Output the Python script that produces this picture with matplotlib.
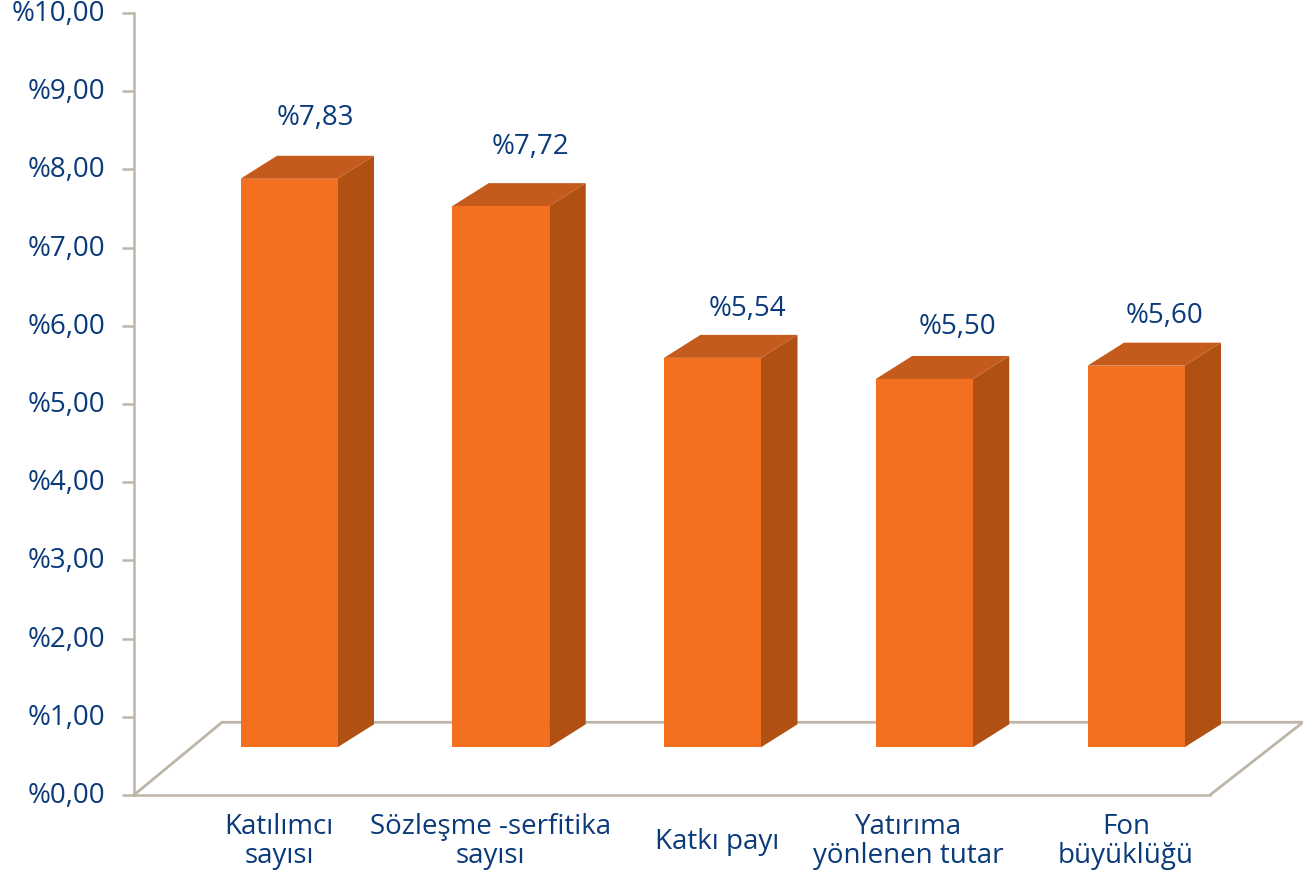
import numpy as np
import matplotlib
matplotlib.use("Agg")
import matplotlib.pyplot as plt
from matplotlib.transforms import ScaledTranslation

categories = ["Katılımcı\nsayısı", "Sözleşme -serfitika\nsayısı", "Katkı payı",
              "Yatırıma\nyönlenen tutar", "Fon\nbüyüklüğü"]
labels = ["%7,83", "%7,72", "%5,54", "%5,50", "%5,60"]
# bar tops as drawn, they do not quite agree with the printed labels
bar_tops = [7.88, 7.53, 5.59, 5.32, 5.49]
y_ticks = np.arange(0, 11)
y_tick_labels = ["%" + str(i) + ",00" for i in y_ticks]

label_dx = [0.125, 0.14, 0.165, 0.155, 0.135]
label_dy = [0.78, 0.76, 0.63, 0.67, 0.63]
tick_dx = [-0.047, -0.047, 0.02, -0.075, -0.047]

FRONT = "#F47021"
SIDE = "#B05012"
TOP = "#C45A1B"
AXIS = "#BDB5A8"
TEXT = "#0A3A7A"
FONT = "Open Sans"
SIZE = 20

W, H = 1303, 873
fig = plt.figure(figsize=(W / 100, H / 100), dpi=100)
ax = fig.add_axes([134 / W, (H - 795) / H, (1210 - 134) / W, 782 / H])

px = 211.75  # pixels per category
x = np.arange(len(categories))
ax.set_xlim((134 - 289) / px, (1210 - 289) / px)
ax.set_ylim(0, 10)

bar_w = 97 / px
dx = 36.5 / px
dy = 23 / 78.2
base = 0.61

# floor
x0, x1 = ax.get_xlim()
floor_dx = 88 / px
floor_dy = 0.93
ax.plot([x0, x0 + floor_dx, (1303 - 289) / px, x1],
        [0, floor_dy, floor_dy, 0], color=AXIS, lw=2, clip_on=False, zorder=1)

# bars with the fake 3d sides
for i, top in enumerate(bar_tops):
    l = x[i] - bar_w / 2
    r = x[i] + bar_w / 2
    ax.fill([r, r + dx, r + dx, r], [base, base + dy, top + dy, top],
            color=SIDE, lw=0, zorder=2, clip_on=False)
    ax.fill([l, l + dx, r + dx, r], [top, top + dy, top + dy, top],
            color=TOP, lw=0, zorder=2, clip_on=False)
ax.bar(x, np.array(bar_tops) - base, bottom=base, width=bar_w, color=FRONT, zorder=3)

for i, lab in enumerate(labels):
    ax.text(x[i] + label_dx[i], bar_tops[i] + label_dy[i], lab, color=TEXT,
            fontsize=SIZE, family=FONT, ha="center", va="center")

for s in ["top", "right"]:
    ax.spines[s].set_visible(False)
for s in ["left", "bottom"]:
    ax.spines[s].set_color(AXIS)
    ax.spines[s].set_linewidth(1.8)

ax.set_yticks(y_ticks)
ax.set_yticklabels(y_tick_labels, color=TEXT, fontsize=SIZE, family=FONT)
ax.tick_params(axis="y", length=8.6, width=1.8, color=AXIS, pad=12)
ax.set_xticks(x + np.array(tick_dx))
ax.set_xticklabels(categories, color=TEXT, fontsize=SIZE, family=FONT, linespacing=1.08)
ax.tick_params(axis="x", length=0, pad=33.5)
for t in ax.get_xticklabels():
    t.set_verticalalignment("center")
up = ScaledTranslation(0, 2.5 / 100, fig.dpi_scale_trans)
for t in ax.get_yticklabels():
    t.set_transform(t.get_transform() + up)

fig.savefig("out.png", dpi=100)
